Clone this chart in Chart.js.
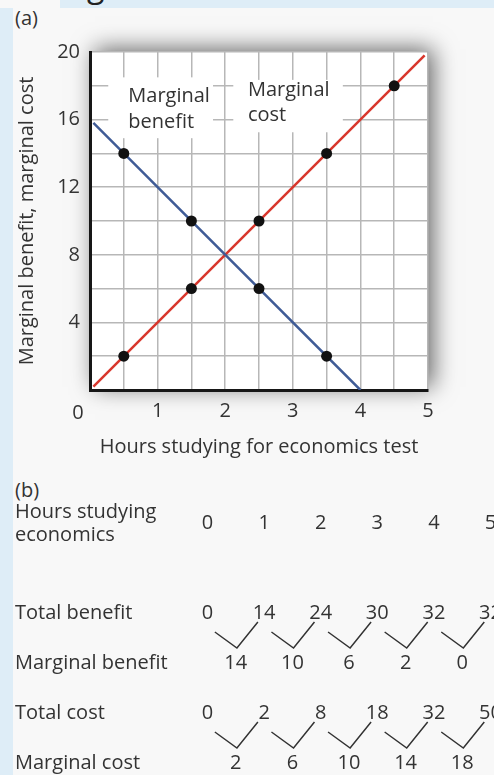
<!DOCTYPE html>
<html>
<head>
<meta charset="utf-8">
<script src="https://cdn.jsdelivr.net/npm/chart.js@4.4.0/dist/chart.umd.min.js"></script>
<style>
    html, body { margin: 0; padding: 0; }
    body { width: 494px; height: 775px; overflow: hidden; position: relative; background: #f8f8f8; font-family: "Open Sans", sans-serif; color: #222; }
    .band-top { position: absolute; left: 60px; top: 0; width: 434px; height: 8px; background: #deedf7; }
    .band-left { position: absolute; left: 0; top: 8px; width: 13px; height: 767px; background: #deedf7; }
    .cut { position: absolute; left: 87px; top: -31px; font-size: 32px; line-height: 32px; color: #222; }
    .tag { position: absolute; left: 15px; font-size: 20px; line-height: 22px; color: #333; }
    canvas { position: absolute; left: 0; }
</style>
</head>
<body>
<div class="band-top"></div>
<div class="band-left"></div>
<div class="cut">g</div>
<div class="tag" style="top:7px">(a)</div>
<div class="tag" style="top:479px">(b)</div>
<canvas id="graph" width="494" height="470" style="top:0"></canvas>
<canvas id="table" width="494" height="305" style="top:470px"></canvas>
<script>
// table (b)
var hours = [0, 1, 2, 3, 4, 5];
var totalBenefit = [0, 14, 24, 30, 32, 32];
var marginalBenefit = [14, 10, 6, 2, 0];
var totalCost = [0, 2, 8, 18, 32, 50];
var marginalCost = [2, 6, 10, 14, 18];
var rowLabels = [['Hours studying', 'economics'], ['Total benefit'], ['Marginal benefit'], ['Total cost'], ['Marginal cost']];

// graph (a)
var xTicks = [0, 1, 2, 3, 4, 5];
var yTicks = [4, 8, 12, 16, 20];
var mbLine = [[0.05, 15.8], [4, 0]];
var mcLine = [[0.05, 0.2], [4.95, 19.8]];

var FONT = '"Open Sans", sans-serif';
var TXT = '#333';

function midPoints(vals) {
    var pts = [];
    vals.forEach(function (v, i) {
        if (v > 0) pts.push({ x: i + 0.5, y: v });
    });
    return pts;
}

function toXY(arr) {
    return arr.map(function (p) { return { x: p[0], y: p[1] }; });
}

var graphPlugin = {
    id: 'graphExtras',
    beforeDraw: function (chart) {
        var a = chart.chartArea, ctx = chart.ctx;
        ctx.save();
        ctx.shadowColor = 'rgba(0,0,0,0.6)';
        ctx.shadowBlur = 22;
        ctx.shadowOffsetX = 5;
        ctx.shadowOffsetY = -3;
        ctx.fillStyle = '#fff';
        ctx.fillRect(a.left, a.top, a.right - a.left, a.bottom - a.top);
        ctx.restore();
    },
    beforeDatasetsDraw: function (chart) {
        var ctx = chart.ctx, xs = chart.scales.x, ys = chart.scales.y;
        var boxes = [
            { x0: 0.27, x1: 1.82, y0: 18.5, y1: 14.9, cx: 1.17, lines: [['Marginal', 17.35], ['benefit', 15.85]] },
            { x0: 2.12, x1: 3.74, y0: 18.35, y1: 15.25, cx: 2.94, lines: [['Marginal', 17.75], ['cost', 16.25]] }
        ];
        ctx.save();
        boxes.forEach(function (b) {
            var l = xs.getPixelForValue(b.x0), r = xs.getPixelForValue(b.x1);
            var t = ys.getPixelForValue(b.y0), btm = ys.getPixelForValue(b.y1);
            ctx.fillStyle = '#fff';
            ctx.fillRect(l, t, r - l, btm - t);
            ctx.fillStyle = TXT;
            ctx.font = '20px ' + FONT;
            ctx.textAlign = 'left';
            ctx.textBaseline = 'middle';
            var left = xs.getPixelForValue(b.cx) - ctx.measureText('Marginal').width / 2;
            b.lines.forEach(function (ln) {
                ctx.fillText(ln[0], left, ys.getPixelForValue(ln[1]));
            });
        });
        ctx.restore();
    },
    afterDraw: function (chart) {
        var ctx = chart.ctx, xs = chart.scales.x;
        ctx.save();
        ctx.fillStyle = TXT;
        ctx.font = '20px ' + FONT;
        ctx.textAlign = 'center';
        ctx.textBaseline = 'middle';
        ctx.fillText('0', xs.getPixelForValue(0) - 12, chart.chartArea.bottom + 23);
        ctx.restore();
    }
};

new Chart(document.getElementById('graph'), {
    type: 'scatter',
    data: {
        datasets: [
            { data: midPoints(marginalBenefit), pointRadius: 5.5, pointBackgroundColor: '#111', pointBorderWidth: 0, showLine: false },
            { data: midPoints(marginalCost), pointRadius: 5.5, pointBackgroundColor: '#111', pointBorderWidth: 0, showLine: false },
            { data: toXY(mbLine), showLine: true, borderColor: '#3f5b96', borderWidth: 2.5, pointRadius: 0 },
            { data: toXY(mcLine), showLine: true, borderColor: '#d8362c', borderWidth: 2.5, pointRadius: 0 }
        ]
    },
    options: {
        responsive: false,
        animation: false,
        devicePixelRatio: 1,
        layout: { padding: { left: 0, right: 66, top: 52, bottom: 0 } },
        plugins: { legend: { display: false }, tooltip: { enabled: false } },
        scales: {
            x: {
                type: 'linear', min: 0, max: 5,
                afterFit: function (s) { s.height = 80; },
                border: { color: '#161616', width: 3 },
                grid: { color: '#b7b7b7', lineWidth: 1.5, drawTicks: false },
                ticks: {
                    stepSize: 0.5, padding: 9, color: TXT, font: { family: FONT, size: 20 }, maxRotation: 0,
                    callback: function (v) { return (xTicks.indexOf(v) > 0) ? String(v) : ''; }
                },
                title: { display: true, text: 'Hours studying for economics test', color: TXT, font: { family: FONT, size: 20 }, padding: { bottom: 11 } }
            },
            y: {
                type: 'linear', min: 0, max: 20,
                afterFit: function (s) { s.width = 90; },
                border: { color: '#161616', width: 3 },
                grid: { color: '#b7b7b7', lineWidth: 1.5, drawTicks: false },
                ticks: {
                    stepSize: 2, padding: 10, color: TXT, font: { family: FONT, size: 20 },
                    callback: function (v) { return yTicks.indexOf(v) >= 0 ? String(v) : ''; }
                },
                title: { display: true, text: 'Marginal benefit, marginal cost', color: TXT, font: { family: FONT, size: 20 }, padding: { top: 15 } }
            }
        }
    },
    plugins: [graphPlugin]
});

// panel (b): rows placed on a hidden linear y scale
var rowPos = [0, 1.8, 2.8, 3.8, 4.8];

function vees(row) {
    var top = rowPos[row], low = rowPos[row + 1];
    var pts = [];
    for (var i = 0; i < hours.length - 1; i++) {
        pts.push({ x: i + 0.13, y: top + 0.38 });
        pts.push({ x: i + 0.52, y: low - 0.3 });
        pts.push({ x: i + 0.89, y: top + 0.18 });
        pts.push({ x: i + 0.9, y: null });
    }
    return pts;
}

var tablePlugin = {
    id: 'tableText',
    afterDatasetsDraw: function (chart) {
        var ctx = chart.ctx, xs = chart.scales.x, ys = chart.scales.y;
        ctx.save();
        ctx.fillStyle = TXT;
        ctx.font = '20px ' + FONT;
        ctx.textBaseline = 'middle';
        ctx.textAlign = 'left';
        rowLabels.forEach(function (lab, r) {
            var y = ys.getPixelForValue(rowPos[r]);
            if (lab.length === 2) {
                ctx.fillText(lab[0], 15, y - 11);
                ctx.fillText(lab[1], 15, y + 12);
            } else {
                ctx.fillText(lab[0], 15, y);
            }
        });
        ctx.textAlign = 'center';
        function put(vals, row, off) {
            vals.forEach(function (v, i) {
                ctx.fillText(String(v), xs.getPixelForValue(i + off), ys.getPixelForValue(rowPos[row]));
            });
        }
        put(hours, 0, 0);
        put(totalBenefit, 1, 0);
        put(marginalBenefit, 2, 0.5);
        put(totalCost, 3, 0);
        put(marginalCost, 4, 0.5);
        ctx.restore();
    }
};

new Chart(document.getElementById('table'), {
    type: 'scatter',
    data: {
        datasets: [
            { data: vees(1), showLine: true, spanGaps: false, borderColor: '#333', borderWidth: 1.5, pointRadius: 0 },
            { data: vees(3), showLine: true, spanGaps: false, borderColor: '#333', borderWidth: 1.5, pointRadius: 0 }
        ]
    },
    options: {
        responsive: false,
        animation: false,
        devicePixelRatio: 1,
        layout: { padding: { left: 207.5, right: 3.5, top: 53, bottom: 2 } },
        plugins: { legend: { display: false }, tooltip: { enabled: false } },
        scales: {
            x: { type: 'linear', min: 0, max: 5, display: false },
            y: { type: 'linear', min: 0, max: 5, reverse: true, display: false }
        }
    },
    plugins: [tablePlugin]
});
</script>
</body>
</html>
